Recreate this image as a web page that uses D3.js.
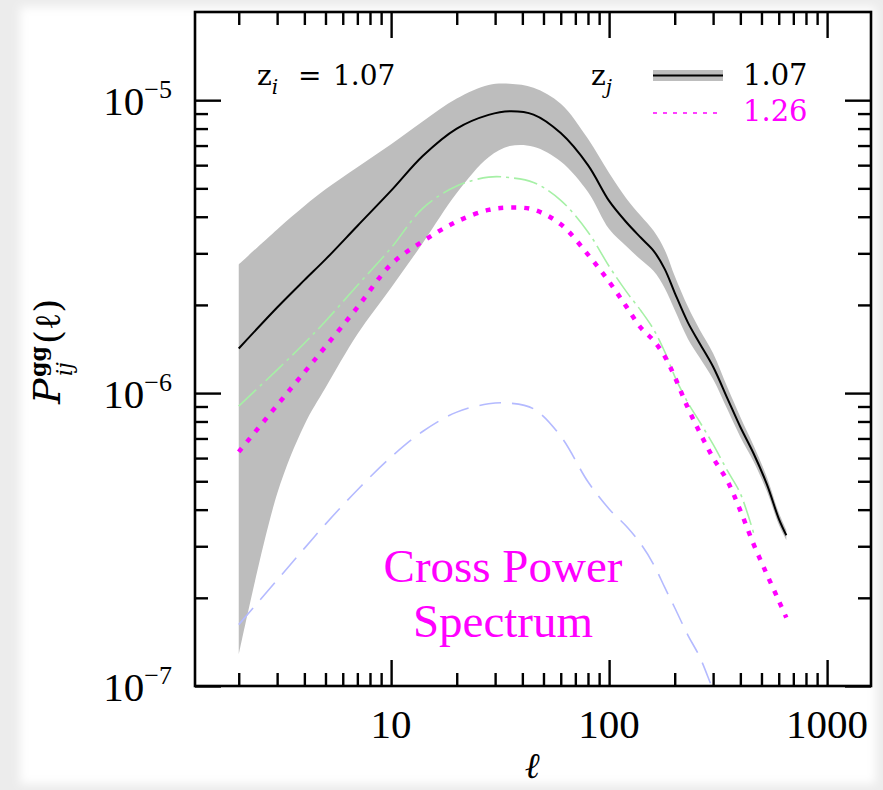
<!DOCTYPE html>
<html>
<head>
<meta charset="utf-8">
<script src="https://cdn.jsdelivr.net/npm/d3@7"></script>
<style>
    body { margin: 0; background: #ececec; }
    svg { display: block; }
</style>
</head>
<body>
<div class="graph"></div>
<script>
// multipole values shared by all curves
var ell = [2, 3, 4, 5, 7, 10, 14, 20, 28, 35, 45, 60, 80, 100, 120, 140, 160, 180, 200, 230, 260, 300, 350, 400, 460, 530, 600, 650];

// z_j = 1.07 : mean curve and grey band
var autoMean = [1.42e-6, 1.96e-6, 2.43e-6, 2.86e-6, 3.72e-6, 4.91e-6, 6.46e-6, 8.00e-6, 8.91e-6, 9.17e-6,
    8.93e-6, 7.72e-6, 6.00e-6, 4.53e-6, 3.83e-6, 3.39e-6, 3.06e-6, 2.65e-6, 2.20e-6, 1.74e-6,
    1.48e-6, 1.23e-6, 9.54e-7, 7.66e-7, 6.22e-7, 4.87e-7, 3.73e-7, 3.27e-7];
var autoUpper = [2.75e-6, 3.62e-6, 4.35e-6, 4.96e-6, 5.90e-6, 7.07e-6, 8.48e-6, 1.013e-5, 1.127e-5, 1.138e-5,
    1.103e-5, 9.73e-6, 7.38e-6, 5.64e-6, 4.62e-6, 4.02e-6, 3.58e-6, 3.08e-6, 2.51e-6, 1.97e-6,
    1.65e-6, 1.367e-6, 1.04e-6, 8.29e-7, 6.62e-7, 5.15e-7, 3.91e-7, 3.41e-7];
var autoLower = [1.28e-7, 4.53e-7, 7.78e-7, 1.042e-6, 1.588e-6, 2.29e-6, 3.26e-6, 4.82e-6, 6.38e-6, 6.97e-6,
    6.94e-6, 6.18e-6, 4.86e-6, 3.63e-6, 3.17e-6, 2.85e-6, 2.61e-6, 2.28e-6, 1.92e-6, 1.53e-6,
    1.323e-6, 1.115e-6, 8.75e-7, 7.08e-7, 5.84e-7, 4.61e-7, 3.56e-7, 3.15e-7];

// z_j = 1.26 : magenta dotted
var cross126 = [6.30e-7, 9.09e-7, 1.178e-6, 1.441e-6, 1.961e-6, 2.75e-6, 3.30e-6, 3.85e-6, 4.22e-6, 4.30e-6,
    4.23e-6, 3.77e-6, 2.97e-6, 2.40e-6, 1.973e-6, 1.669e-6, 1.511e-6, 1.335e-6, 1.136e-6, 8.89e-7,
    7.36e-7, 6.01e-7, 4.99e-7, 3.97e-7, 3.05e-7, 2.40e-7, 1.956e-7, 1.712e-7];

// light green dash-dot
var greenCurve = [9.03e-7, 1.20e-6, 1.48e-6, 1.76e-6, 2.33e-6, 3.13e-6, 4.28e-6, 5.09e-6, 5.46e-6, 5.44e-6,
    5.24e-6, 4.55e-6, 3.55e-6, 2.71e-6, 2.22e-6, 1.91e-6, 1.65e-6, 1.384e-6, 1.141e-6, 9.26e-7,
    7.99e-7, 6.68e-7, 5.41e-7, 4.54e-7, 3.33e-7, null, null, null];

// light blue dashed
var blueCurve = [1.62e-7, 2.30e-7, 2.95e-7, 3.57e-7, 4.67e-7, 6.05e-7, 7.41e-7, 8.61e-7, 9.19e-7, 9.24e-7,
    8.84e-7, 7.12e-7, 4.98e-7, 4.02e-7, 3.51e-7, 3.05e-7, 2.60e-7, 2.17e-7, 1.85e-7, 1.49e-7,
    1.26e-7, 9.7e-8, 7.4e-8, null, null, null, null, null];

var xMajor = [10, 100, 1000];
var xMajorLabels = ['10', '100', '1000'];
var xMinor = [2, 3, 4, 5, 6, 7, 8, 9, 20, 30, 40, 50, 60, 70, 80, 90, 200, 300, 400, 500, 600, 700, 800, 900];
var yMajor = [1e-7, 1e-6, 1e-5];
var yMajorExp = ['\u22127', '\u22126', '\u22125'];
var yMinor = [2e-7, 3e-7, 4e-7, 5e-7, 6e-7, 7e-7, 8e-7, 9e-7, 2e-6, 3e-6, 4e-6, 5e-6, 6e-6, 7e-6, 8e-6, 9e-6];

(() => {
var width = 883,
    height = 790,
    box = {left: 195, right: 871, top: 12, bottom: 686};

var svg = d3.select('div.graph')
    .append('svg')
        .attr('width', width)
        .attr('height', height);

var defs = svg.append('defs');
defs.append('filter')
        .attr('id', 'soft')
        .attr('x', '-5%').attr('y', '-5%').attr('width', '110%').attr('height', '110%')
    .append('feGaussianBlur')
        .attr('stdDeviation', 5);
defs.append('clipPath')
        .attr('id', 'plotclip')
    .append('rect')
        .attr('x', box.left)
        .attr('y', box.top)
        .attr('width', box.right - box.left)
        .attr('height', box.bottom - box.top);

// paper background
svg.append('rect')
    .attr('width', width)
    .attr('height', height)
    .style('fill', '#ececec');
svg.append('rect')
    .attr('x', 20)
    .attr('y', 7)
    .attr('width', 856)
    .attr('height', 777)
    .attr('filter', 'url(#soft)')
    .style('fill', '#fff');

var x = d3.scaleLog()
    .domain([1.26, 1590])
    .range([box.left, box.right]);
var y = d3.scaleLog()
    .domain([1e-7, 2e-5])
    .range([box.bottom, box.top]);

var rows = ell.map((l, i) => ({
    l: l, mean: autoMean[i], up: autoUpper[i], lo: autoLower[i],
    cross: cross126[i], green: greenCurve[i], blue: blueCurve[i]
}));

var plot = svg.append('g')
    .attr('clip-path', 'url(#plotclip)');

plot.append('path')
    .datum(rows)
    .attr('d', d3.area()
        .x((d) => x(d.l))
        .y0((d) => y(d.lo))
        .y1((d) => y(d.up))
        .curve(d3.curveCatmullRom.alpha(0.5)))
    .style('fill', '#bdbdbd');

var lineOf = function(key) {
    return d3.line()
        .defined((d) => d[key] != null)
        .x((d) => x(d.l))
        .y((d) => y(d[key]))
        .curve(d3.curveCatmullRom.alpha(0.5));
};

plot.append('path')
    .datum(rows)
    .attr('d', lineOf('blue'))
    .style('fill', 'none')
    .style('stroke', '#b4baff')
    .style('stroke-width', 1.6)
    .style('stroke-dasharray', '22,11');

plot.append('path')
    .datum(rows)
    .attr('d', lineOf('green'))
    .style('fill', 'none')
    .style('stroke', '#a6f0a6')
    .style('stroke-width', 1.6)
    .style('stroke-dasharray', '24,5,3,5');

plot.append('path')
    .datum(rows)
    .attr('d', lineOf('cross'))
    .style('fill', 'none')
    .style('stroke', '#ff00ff')
    .style('stroke-width', 4.5)
    .style('stroke-dasharray', '5,8');

plot.append('path')
    .datum(rows)
    .attr('d', lineOf('mean'))
    .style('fill', 'none')
    .style('stroke', '#000')
    .style('stroke-width', 2);

// ticks on all four sides, pointing inwards
var tickStyle = function(g) {
    g.select('.domain').remove();
    g.selectAll('.tick line').style('stroke', '#000').style('stroke-width', 2.4);
    g.selectAll('.tick text').remove();
};
var span = box.bottom - box.top, wide = box.right - box.left;

svg.append('g')
    .attr('transform', 'translate(0,' + box.bottom + ')')
    .call(d3.axisBottom(x).tickValues(xMajor).tickSize(-26).tickSizeOuter(0))
    .call(tickStyle);
svg.append('g')
    .attr('transform', 'translate(0,' + box.bottom + ')')
    .call(d3.axisBottom(x).tickValues(xMinor).tickSize(-13).tickSizeOuter(0))
    .call(tickStyle);
svg.append('g')
    .attr('transform', 'translate(0,' + box.top + ')')
    .call(d3.axisTop(x).tickValues(xMajor).tickSize(-26).tickSizeOuter(0))
    .call(tickStyle);
svg.append('g')
    .attr('transform', 'translate(0,' + box.top + ')')
    .call(d3.axisTop(x).tickValues(xMinor).tickSize(-13).tickSizeOuter(0))
    .call(tickStyle);
svg.append('g')
    .attr('transform', 'translate(' + box.left + ',0)')
    .call(d3.axisLeft(y).tickValues(yMajor).tickSize(-26).tickSizeOuter(0))
    .call(tickStyle);
svg.append('g')
    .attr('transform', 'translate(' + box.left + ',0)')
    .call(d3.axisLeft(y).tickValues(yMinor).tickSize(-13).tickSizeOuter(0))
    .call(tickStyle);
svg.append('g')
    .attr('transform', 'translate(' + box.right + ',0)')
    .call(d3.axisRight(y).tickValues(yMajor).tickSize(-26).tickSizeOuter(0))
    .call(tickStyle);
svg.append('g')
    .attr('transform', 'translate(' + box.right + ',0)')
    .call(d3.axisRight(y).tickValues(yMinor).tickSize(-13).tickSizeOuter(0))
    .call(tickStyle);

svg.append('rect')
    .attr('x', box.left)
    .attr('y', box.top)
    .attr('width', wide)
    .attr('height', span)
    .style('fill', 'none')
    .style('stroke', '#000')
    .style('stroke-width', 2.6);

// tick labels
svg.selectAll('xlab')
    .data(xMajor)
    .enter()
    .append('text')
        .attr('x', (d) => x(d))
        .attr('y', 738)
        .attr('text-anchor', 'middle')
        .style('font-family', '"Liberation Serif", serif')
        .style('font-size', '41px')
        .text((d, i) => xMajorLabels[i]);

var ylab = svg.selectAll('ylab')
    .data(yMajor)
    .enter()
    .append('text')
        .attr('x', 172)
        .attr('y', (d) => y(d) + 15)
        .attr('text-anchor', 'end')
        .style('font-family', '"Liberation Serif", serif')
        .style('font-size', '41px');
ylab.append('tspan').text('10');
ylab.append('tspan')
    .attr('dy', -17)
    .style('font-size', '26px')
    .text((d, i) => yMajorExp[i]);

// axis titles
svg.append('text')
    .attr('x', (box.left + box.right) / 2)
    .attr('y', 778)
    .attr('text-anchor', 'middle')
    .style('font-family', '"DejaVu Serif", serif')
    .style('font-style', 'italic')
    .style('font-weight', 'bold')
    .style('font-size', '36px')
    .text('\u2113');

var ytitle = svg.append('g')
    .attr('transform', 'translate(60,404) rotate(-90)')
    .style('font-family', '"DejaVu Serif", serif')
    .style('font-style', 'italic');
ytitle.append('text')
    .attr('x', 0).attr('y', 0)
    .style('font-size', '38px')
    .text('P');
ytitle.append('text')
    .attr('x', 27).attr('y', -14)
    .style('font-size', '22px')
    .style('font-weight', 'bold')
    .style('font-style', 'normal')
    .text('gg');
ytitle.append('text')
    .attr('x', 28).attr('y', 12)
    .style('font-size', '22px')
    .text('ij');
ytitle.append('text')
    .attr('x', 60).attr('y', 0)
    .style('font-size', '36px')
    .style('font-style', 'normal')
    .text('(\u2113)');

// legend
var serif = '"DejaVu Serif", serif';
var zi = svg.append('text')
    .attr('x', 257)
    .attr('y', 85)
    .style('font-family', serif)
    .style('font-size', '28px');
zi.append('tspan').text('z');
zi.append('tspan').attr('dy', 9).style('font-size', '20px').style('font-style', 'italic').text('i');
zi.append('tspan').attr('x', 298).attr('dy', -9).text('=');
zi.append('tspan').attr('x', 333).text('1.07');

var zj = svg.append('text')
    .attr('x', 591)
    .attr('y', 85)
    .style('font-family', serif)
    .style('font-size', '28px');
zj.append('tspan').text('z');
zj.append('tspan').attr('dy', 9).style('font-size', '20px').style('font-style', 'italic').text('j');

svg.append('rect')
    .attr('x', 653)
    .attr('y', 70)
    .attr('width', 70)
    .attr('height', 11)
    .style('fill', '#bdbdbd');
svg.append('line')
    .attr('x1', 653).attr('x2', 723)
    .attr('y1', 75.5).attr('y2', 75.5)
    .style('stroke', '#000')
    .style('stroke-width', 2);
svg.append('line')
    .attr('x1', 653).attr('x2', 723)
    .attr('y1', 113).attr('y2', 113)
    .style('stroke', '#ff00ff')
    .style('stroke-width', 1.6)
    .style('stroke-dasharray', '4,6');

svg.append('text')
    .attr('x', 743)
    .attr('y', 85)
    .style('font-family', serif)
    .style('font-size', '29px')
    .text('1.07');
svg.append('text')
    .attr('x', 743)
    .attr('y', 121)
    .style('font-family', serif)
    .style('font-size', '29px')
    .style('fill', '#ff00ff')
    .text('1.26');

// annotation
svg.selectAll('note')
    .data(['Cross Power', 'Spectrum'])
    .enter()
    .append('text')
        .attr('x', 503)
        .attr('y', (d, i) => 582 + i * 55)
        .attr('text-anchor', 'middle')
        .style('font-family', '"Liberation Serif", serif')
        .style('font-size', '47px')
        .style('fill', '#ff00ff')
        .text((d) => d);
})();
</script>
</body>
</html>
